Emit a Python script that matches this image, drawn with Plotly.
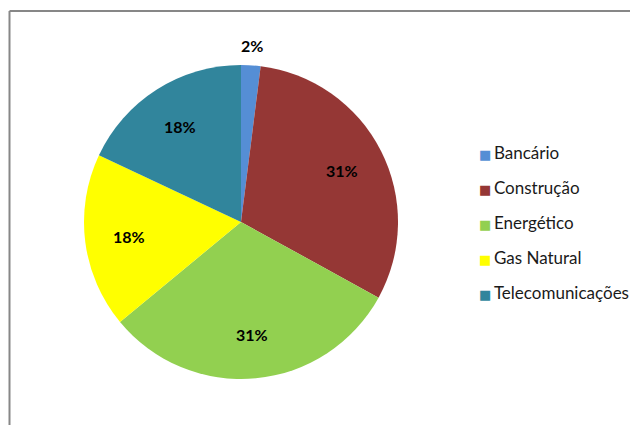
import math
import plotly.graph_objects as go

# Sector shares (percent)
sectors = ["Bancário", "Construção", "Energético", "Gas Natural", "Telecomunicações"]
shares = [2, 31, 31, 18, 18]
colors = ["#558ED5", "#953735", "#92D050", "#FFFF00", "#31859C"]

W, H = 630, 425
cx, cy, r = 241, 222, 157  # pie centre and radius in pixels

fig = go.Figure()

fig.add_trace(go.Pie(
    labels=sectors,
    values=shares,
    marker=dict(colors=colors, line=dict(width=0)),
    sort=False,
    direction="clockwise",
    rotation=0,
    textinfo="none",
    showlegend=False,
    hoverinfo="label+percent",
    domain=dict(x=[(cx - r) / W, (cx + r) / W],
                y=[(H - cy - r) / H, (H - cy + r) / H]),
))

# Percentage labels at the middle angle of each slice (clockwise from 12 o'clock);
# the thin first slice gets its label just outside the rim.
total = sum(shares)
start = 0.0
for i, v in enumerate(shares):
    mid = (start + v / 2) / total * 2 * math.pi
    start += v
    dist = r + 20 if i == 0 else 0.72 * r
    px = cx + math.sin(mid) * dist
    py = cy - math.cos(mid) * dist
    fig.add_annotation(
        x=px / W, y=(H - py) / H, xref="paper", yref="paper",
        xanchor="center", yanchor="middle",
        text=f"<b>{v}%</b>", showarrow=False,
        font=dict(family="Lato", size=16, color="#000000"),
    )

# Key on the right: coloured square followed by the sector name, one row per sector
key_left, key_top, key_step = 477, 152, 35.2
for k, (name, col) in enumerate(zip(sectors, colors)):
    row_y = key_top + k * key_step
    fig.add_annotation(
        x=key_left / W, y=(H - row_y) / H, xref="paper", yref="paper",
        xanchor="left", yanchor="middle", showarrow=False, align="left",
        text=(f"<span style='font-family:DejaVu Sans;font-size:13px;color:{col}'>■\u2009</span>"
              f"{name}"),
        font=dict(family="Lato", size=17, color="#1a1a1a"),
    )

fig.update_layout(
    width=W, height=H,
    margin=dict(l=0, r=0, t=0, b=0),
    paper_bgcolor="white",
    plot_bgcolor="white",
    showlegend=False,
    shapes=[
        dict(type="line", xref="paper", yref="paper",
             x0=9.5 / W, x1=1.0, y0=(H - 11) / H, y1=(H - 11) / H,
             line=dict(color="#878787", width=2)),
        dict(type="line", xref="paper", yref="paper",
             x0=9.5 / W, x1=9.5 / W, y0=0, y1=(H - 11) / H,
             line=dict(color="#878787", width=2)),
    ],
)

fig.write_html("out.html")
